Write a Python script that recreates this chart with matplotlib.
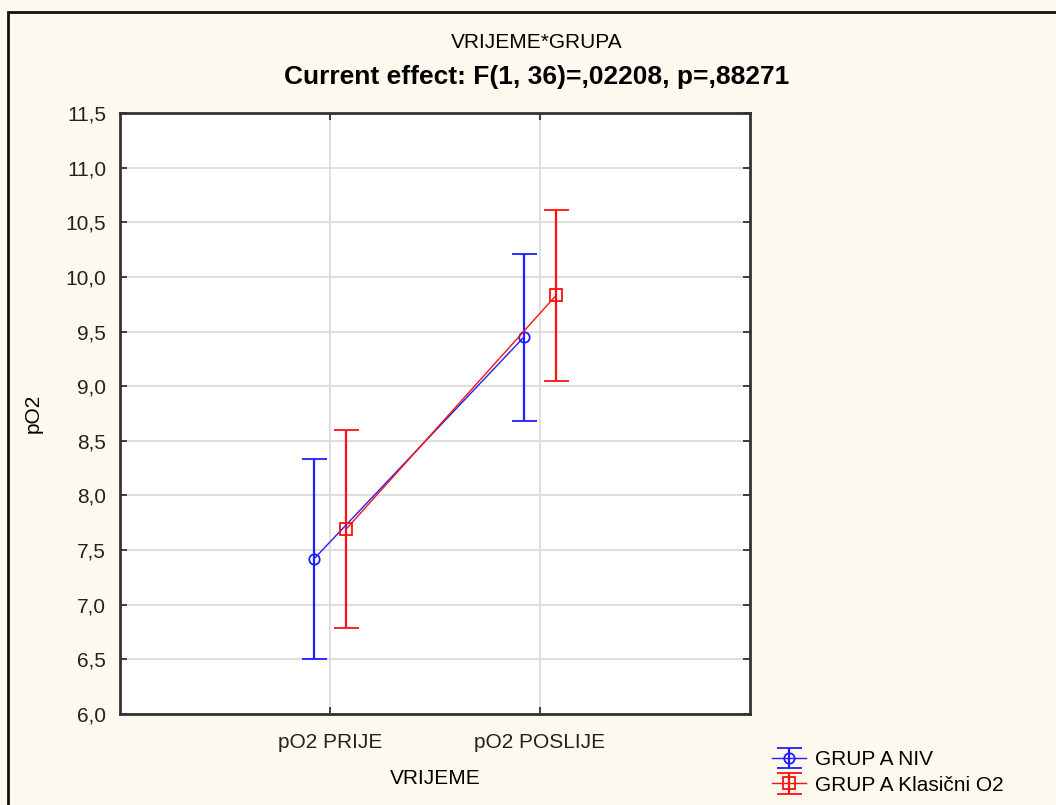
import matplotlib
matplotlib.use("Agg")
import matplotlib.pyplot as plt
from matplotlib.patches import Rectangle
import numpy as np

plt.rcParams['font.family'] = ['Liberation Sans', 'DejaVu Sans']

categories = ["pO2 PRIJE", "pO2 POSLIJE"]
groups = ["GRUP A NIV", "GRUP A Klasični O2"]
niv_mean = [7.42, 9.45]
niv_low = [6.50, 8.68]
niv_high = [8.33, 10.21]
kl_mean = [7.69, 9.83]
kl_low = [6.79, 9.05]
kl_high = [8.60, 10.61]
yticks = [6.0, 6.5, 7.0, 7.5, 8.0, 8.5, 9.0, 9.5, 10.0, 10.5, 11.0, 11.5]

W, H = 1056, 805
fig = plt.figure(figsize=(W / 100, H / 100), dpi=100)
bg = '#fef9ef'
fig.patch.set_facecolor(bg)

# outer frame
fig.patches.append(Rectangle((8 / W, -0.1), 1.2, 1 - 12 / H + 0.1, transform=fig.transFigure,
                             fill=False, edgecolor='#111111', linewidth=2, zorder=0))

ax = fig.add_axes([120 / W, 1 - 714 / H, (750 - 120) / W, (714 - 113) / H])
ax.set_facecolor('white')

x = np.arange(len(categories))
off = 0.076
specs = [
    (niv_mean, niv_low, niv_high, -off, '#1f1fff', 'o', 7.5, groups[0]),
    (kl_mean, kl_low, kl_high, off, '#ff1010', 's', 8.5, groups[1]),
]
handles = []
for mean, lo, hi, dx, col, mk, ms, lab in specs:
    mean = np.array(mean); lo = np.array(lo); hi = np.array(hi)
    eb = ax.errorbar(x + dx, mean, yerr=[mean - lo, hi - mean], color=col, ecolor=col,
                     linewidth=1.0, elinewidth=1.6, capsize=9, capthick=1.6,
                     marker=mk, markersize=ms, markerfacecolor='none', markeredgecolor=col,
                     markeredgewidth=1.3, label=lab, zorder=3)
    handles.append(eb)

ax.set_xlim(-1, 2)
ax.set_ylim(6.0, 11.5)
ax.set_yticks(yticks)
ax.set_yticklabels([f"{v:.1f}".replace('.', ',') for v in yticks])
ax.set_xticks(x)
ax.set_xticklabels(categories)
ax.grid(True, color='#dcdcdc', linewidth=1.3)
ax.set_axisbelow(True)
ax.tick_params(direction='in', length=5, width=1.2, top=True, right=True,
               labelsize=15, colors='#222222', pad=10)
ax.tick_params(axis='x', pad=14)
for s in ax.spines.values():
    s.set_linewidth(2)
    s.set_color('#333333')

ax.set_xlabel("VRIJEME", fontsize=15, labelpad=12)
ax.set_ylabel("pO2", fontsize=15, labelpad=16)

fig.text(537 / W, 1 - 43 / H, "VRIJEME*GRUPA", ha='center', va='center', fontsize=15)
fig.text(537 / W, 1 - 77 / H, "Current effect: F(1, 36)=,02208, p=,88271", ha='center',
         va='center', fontsize=19, fontweight='bold')

leg = fig.legend(handles=handles, labels=groups, loc='upper left',
                 bbox_to_anchor=(764 / W, 1 - 742 / H), frameon=False, fontsize=15,
                 handlelength=1.6, handletextpad=0.45, labelspacing=0.3, borderaxespad=0)

fig.savefig("out.png", dpi=100, facecolor=bg)
